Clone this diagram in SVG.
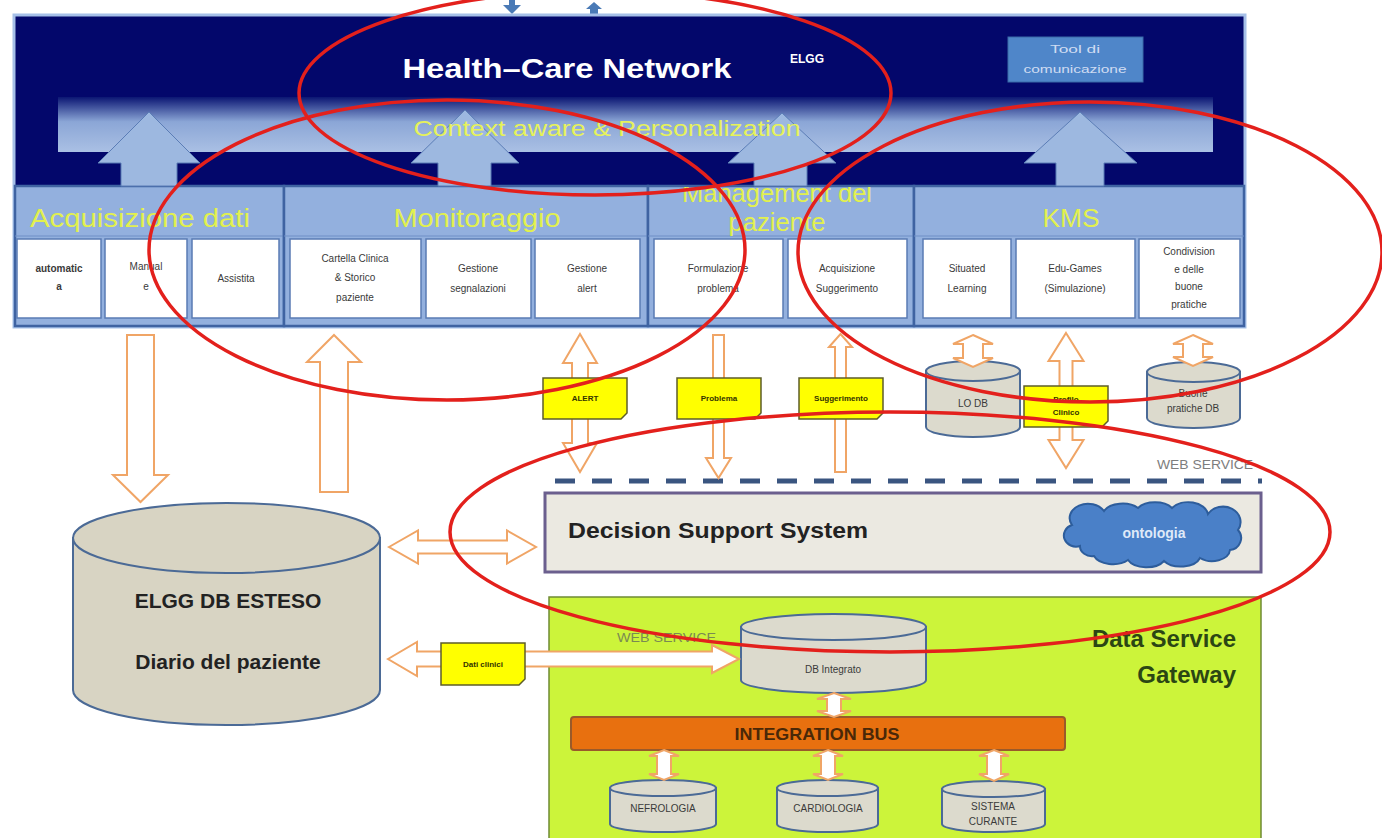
<svg xmlns="http://www.w3.org/2000/svg" width="1382" height="838" viewBox="0 0 1382 838">
  <style>
    text { font-family: "Liberation Sans", Arial, sans-serif; }
    .title { fill: #e2f04e; font-size: 26px; text-anchor: middle; }
    .sect { fill: #93b0de; stroke: #3f63a2; stroke-width: 2.5; }
    .box { fill: #ffffff; stroke: #5a7bb4; stroke-width: 1.5; }
    .small { fill: #3a3a3a; font-size: 10px; text-anchor: middle; }
    .up { fill: #9db8e0; stroke: #5b7db6; stroke-width: 1; }
    .flow { fill: #ffffff; stroke: #f0a566; stroke-width: 2; stroke-linejoin: miter; }
    .note { fill: #ffff00; stroke: #5d5d2a; stroke-width: 1.5; }
    .notetxt { fill: #333300; font-size: 8px; font-weight: bold; text-anchor: middle; }
    .cyl { fill: #d8d4c3; stroke: #4b6a96; stroke-width: 2; }
    .cylsm { fill: #dcdacd; stroke: #4b6a96; stroke-width: 2; }
    .mark { fill: none; stroke: #e3201c; stroke-width: 3.5; }
  </style>
  <defs>
    <linearGradient id="bandGrad" x1="0" y1="0" x2="0" y2="1">
      <stop offset="0" stop-color="#0b1673"/>
      <stop offset="0.45" stop-color="#8ba6d6"/>
      <stop offset="1" stop-color="#aac0e4"/>
    </linearGradient>
    <clipPath id="mgmtClip">
      <rect x="648" y="187" width="266" height="50"/>
    </clipPath>
  </defs>

  <rect x="0" y="0" width="1382" height="838" fill="#ffffff"/>

  <!-- arrow ends coming in from above the panel -->
  <g id="incoming" fill="#4a7ab6">
    <rect x="509" y="0" width="6" height="5"/>
    <polygon points="503,5 521,5 512,14"/>
    <polygon points="594,2 602,9 598,9 598,16 590,16 590,9 586,9"/>
  </g>

  <!-- Health-Care Network panel -->
  <g id="health-care-network">
    <rect x="14" y="15" width="1231" height="312" fill="#03076b" stroke="#a6c0e8" stroke-width="3"/>
    <text x="567" y="78" fill="#ffffff" font-size="28" font-weight="bold" text-anchor="middle" textLength="329" lengthAdjust="spacingAndGlyphs">Health–Care Network</text>
    <text x="807" y="63" fill="#ffffff" font-size="12" font-weight="bold" text-anchor="middle">ELGG</text>
  </g>

  <g id="tool-comunicazione">
    <rect x="1008" y="37" width="135" height="45" fill="#4f86c9" stroke="#3a6aa8" stroke-width="1"/>
    <text x="1075" y="53" fill="#cfdcf2" font-size="11" text-anchor="middle" textLength="50" lengthAdjust="spacingAndGlyphs">Tool di</text>
    <text x="1075" y="73" fill="#cfdcf2" font-size="11" text-anchor="middle" textLength="103" lengthAdjust="spacingAndGlyphs">comunicazione</text>
  </g>

  <g id="context-aware">
    <rect x="58" y="97" width="1155" height="55" fill="url(#bandGrad)"/>
  </g>

  <!-- module row -->
  <g id="acquisizione-dati">
    <rect class="sect" x="15" y="186" width="269" height="140"/>
    <line x1="15" y1="236" x2="284" y2="236" stroke="#6f8fc6" stroke-width="1"/>
    <text class="title" x="140" y="227" textLength="220" lengthAdjust="spacingAndGlyphs">Acquisizione dati</text>
    <rect class="box" x="17" y="239" width="84" height="79"/>
    <rect class="box" x="105" y="239" width="82" height="79"/>
    <rect class="box" x="192" y="239" width="87" height="79"/>
    <text class="small" x="59" y="272" font-weight="bold" font-size="8.5">automatic</text>
    <text class="small" x="59" y="290" font-weight="bold" font-size="8.5">a</text>
    <text class="small" x="146" y="270">Manual</text>
    <text class="small" x="146" y="290">e</text>
    <text class="small" x="236" y="282">Assistita</text>
  </g>

  <g id="monitoraggio">
    <rect class="sect" x="284" y="186" width="364" height="140"/>
    <line x1="284" y1="236" x2="648" y2="236" stroke="#6f8fc6" stroke-width="1"/>
    <text class="title" x="477" y="227" textLength="167" lengthAdjust="spacingAndGlyphs">Monitoraggio</text>
    <rect class="box" x="290" y="239" width="131" height="79"/>
    <rect class="box" x="426" y="239" width="105" height="79"/>
    <rect class="box" x="535" y="239" width="105" height="79"/>
    <text class="small" x="355" y="262">Cartella Clinica</text>
    <text class="small" x="355" y="281">&amp; Storico</text>
    <text class="small" x="355" y="301">paziente</text>
    <text class="small" x="478" y="272">Gestione</text>
    <text class="small" x="478" y="292">segnalazioni</text>
    <text class="small" x="587" y="272">Gestione</text>
    <text class="small" x="587" y="292">alert</text>
  </g>

  <g id="management-paziente">
    <rect class="sect" x="648" y="186" width="266" height="140"/>
    <line x1="648" y1="236" x2="914" y2="236" stroke="#6f8fc6" stroke-width="1"/>
    <g clip-path="url(#mgmtClip)">
      <text class="title" x="777" y="202" font-size="24" textLength="190" lengthAdjust="spacingAndGlyphs">Management del</text>
      <text class="title" x="777" y="231" font-size="24" textLength="97" lengthAdjust="spacingAndGlyphs">paziente</text>
    </g>
    <rect class="box" x="654" y="239" width="129" height="79"/>
    <rect class="box" x="788" y="239" width="119" height="79"/>
    <text class="small" x="718" y="272">Formulazione</text>
    <text class="small" x="718" y="292">problema</text>
    <text class="small" x="847" y="272">Acquisizione</text>
    <text class="small" x="847" y="292">Suggerimento</text>
  </g>

  <g id="kms">
    <rect class="sect" x="914" y="186" width="330" height="140"/>
    <line x1="914" y1="236" x2="1244" y2="236" stroke="#6f8fc6" stroke-width="1"/>
    <text class="title" x="1071" y="227" textLength="57" lengthAdjust="spacingAndGlyphs">KMS</text>
    <rect class="box" x="923" y="239" width="88" height="79"/>
    <rect class="box" x="1016" y="239" width="119" height="79"/>
    <rect class="box" x="1139" y="239" width="101" height="79"/>
    <text class="small" x="967" y="272">Situated</text>
    <text class="small" x="967" y="292">Learning</text>
    <text class="small" x="1075" y="272">Edu-Games</text>
    <text class="small" x="1075" y="292">(Simulazione)</text>
    <text class="small" x="1189" y="255">Condivision</text>
    <text class="small" x="1189" y="273">e delle</text>
    <text class="small" x="1189" y="290">buone</text>
    <text class="small" x="1189" y="308">pratiche</text>
  </g>

  <!-- storage -->
  <g id="elgg-db-esteso">
    <path class="cyl" d="M73,538 V690 A153.5,35 0 0 0 380,690 V538 Z"/>
    <ellipse class="cyl" cx="226.5" cy="538" rx="153.5" ry="35"/>
    <text x="228" y="608" fill="#222222" font-size="21" font-weight="bold" text-anchor="middle">ELGG DB ESTESO</text>
    <text x="228" y="669" fill="#222222" font-size="21" font-weight="bold" text-anchor="middle">Diario del paziente</text>
  </g>

  <g id="lo-db">
    <path class="cylsm" d="M926,371 V427 A47,10 0 0 0 1020,427 V371 Z"/>
    <ellipse class="cylsm" cx="973" cy="371" rx="47" ry="10"/>
    <text class="small" x="973" y="407" font-size="11">LO DB</text>
  </g>

  <g id="buone-pratiche-db">
    <path class="cylsm" d="M1147,372 V418 A46.5,10 0 0 0 1240,418 V372 Z"/>
    <ellipse class="cylsm" cx="1193.5" cy="372" rx="46.5" ry="10"/>
    <text class="small" x="1193" y="397" font-size="9.5">Buone</text>
    <text class="small" x="1193" y="412" font-size="9.5">pratiche DB</text>
  </g>

  <g id="web-service-line">
    <line x1="555" y1="481" x2="1262" y2="481" stroke="#3a5580" stroke-width="5" stroke-dasharray="20 17"/>
    <text x="1253" y="469" fill="#7d7d7d" font-size="13" text-anchor="end" textLength="96" lengthAdjust="spacingAndGlyphs">WEB SERVICE</text>
  </g>

  <g id="decision-support-system">
    <rect x="545" y="493" width="716" height="79" fill="#ebe9e1" stroke="#6b5f8e" stroke-width="3"/>
    <text x="568" y="538" fill="#222222" font-size="22" font-weight="bold" textLength="300" lengthAdjust="spacingAndGlyphs">Decision Support System</text>
  </g>

  <g id="ontologia">
    <path d="M1080,546 A12,11 0 0 1 1072,525 A18,14 0 0 1 1104,511 A20,12 0 0 1 1138,508 A20,12 0 0 1 1172,508 A20,14 0 0 1 1208,514 A16,14 0 0 1 1238,530 A12,12 0 0 1 1230,550 A18,12 0 0 1 1200,558 A20,12 0 0 1 1164,561 A20,12 0 0 1 1128,560 A20,12 0 0 1 1094,556 A12,10 0 0 1 1080,546 Z" fill="#4a80c8" stroke="#2d5d9c" stroke-width="2"/>
    <text x="1154" y="538" fill="#dfe9f8" font-size="14" font-weight="bold" text-anchor="middle">ontologia</text>
  </g>

  <g id="data-service-gateway">
    <rect x="549" y="597" width="712" height="250" fill="#ccf43a" stroke="#6f8a34" stroke-width="1.5"/>
    <text x="1236" y="647" fill="#2b4614" font-size="24" font-weight="bold" text-anchor="end">Data Service</text>
    <text x="1236" y="683" fill="#2b4614" font-size="24" font-weight="bold" text-anchor="end">Gateway</text>
    <text x="617" y="642" fill="#7a8a52" font-size="13" textLength="99" lengthAdjust="spacingAndGlyphs">WEB SERVICE</text>
  </g>

  <g id="db-integrato">
    <path class="cylsm" d="M741,627 V680 A92.5,13 0 0 0 926,680 V627 Z"/>
    <ellipse class="cylsm" cx="833.5" cy="627" rx="92.5" ry="13"/>
    <text class="small" x="833" y="673" font-size="10">DB Integrato</text>
  </g>

  <g id="integration-bus">
    <rect x="571" y="717" width="494" height="33" rx="3" fill="#e8700f" stroke="#9a5a2a" stroke-width="2"/>
    <text x="817" y="740" fill="#4a2808" font-size="17" font-weight="bold" text-anchor="middle" textLength="165" lengthAdjust="spacingAndGlyphs">INTEGRATION BUS</text>
  </g>

  <g id="nefrologia">
    <path class="cylsm" d="M610,788 V824 A53,8 0 0 0 716,824 V788 Z"/>
    <ellipse class="cylsm" cx="663" cy="788" rx="53" ry="8"/>
    <text class="small" x="663" y="812" font-size="7">NEFROLOGIA</text>
  </g>

  <g id="cardiologia">
    <path class="cylsm" d="M777,788 V824 A50.5,8 0 0 0 878,824 V788 Z"/>
    <ellipse class="cylsm" cx="827.5" cy="788" rx="50.5" ry="8"/>
    <text class="small" x="828" y="812" font-size="7">CARDIOLOGIA</text>
  </g>

  <g id="sistema-curante">
    <path class="cylsm" d="M942,789 V824 A51.5,8 0 0 0 1045,824 V789 Z"/>
    <ellipse class="cylsm" cx="993.5" cy="789" rx="51.5" ry="8"/>
    <text class="small" x="993" y="810" font-size="7">SISTEMA</text>
    <text class="small" x="993" y="825" font-size="7">CURANTE</text>
  </g>

  <!-- connectors -->
  <g id="connectors">
    <!-- module outputs up into the context layer -->
    <path class="up" d="M149,112 L200,163 H177 V186 H121 V163 H98 Z"/>
    <path class="up" d="M465,110 L519,163 H491 V186 H438 V163 H411 Z"/>
    <path class="up" d="M782,113 L836,163 H807 V186 H754 V163 H728 Z"/>
    <path class="up" d="M1080,112 L1137,163 H1104 V186 H1056 V163 H1024 Z"/>

    <!-- data flows -->
    <path class="flow" d="M127,335 H154 V475 H168 L140.5,502 L113,475 H127 Z"/>
    <path class="flow" d="M334,335 L361,362 H348 V492 H320 V362 H307 Z"/>
    <path class="flow" d="M389,547 L418,530.5 V540.5 H507 V530.5 L536,547 L507,563.5 V553.5 H418 V563.5 Z"/>
    <path class="flow" d="M388,659 L417,642 V651.5 H712 V645 L739,659 L712,673 V666.5 H417 V676 Z"/>
    <path class="flow" d="M580,334 L597,363 H588 V443 H597 L580,472 L563,443 H572 V363 H563 Z"/>
    <path class="flow" d="M713,335 H724 V458 H731 L718.5,478 L706,458 H713 Z"/>
    <path class="flow" d="M840.5,334 L852,347 H846 V472 H835 V347 H829 Z"/>
    <path class="flow" d="M973,335 L993,344 H983 V358 H993 L973,367 L953,358 H963 V344 H953 Z"/>
    <path class="flow" d="M1066,333 L1083.5,361 H1072.5 V440 H1083.5 L1066,468 L1048.5,440 H1059.5 V361 H1048.5 Z"/>
    <path class="flow" d="M1193,335 L1213,344 H1203 V357 H1213 L1193,366 L1173,357 H1183 V344 H1173 Z"/>

    <!-- gateway internals -->
    <path class="flow" d="M834,693 L851,699 H841 V711 H851 L834,717 L817,711 H827 V699 H817 Z"/>
    <path class="flow" d="M664,750 L679,756 H671 V774 H679 L664,780 L649,774 H657 V756 H649 Z"/>
    <path class="flow" d="M828,750 L843,756 H835 V774 H843 L828,780 L813,774 H821 V756 H813 Z"/>
    <path class="flow" d="M994,750 L1009,756 H1001 V774 H1009 L994,781 L979,774 H987 V756 H979 Z"/>
  </g>

  <!-- layer caption, printed over the arrow heads -->
  <g id="context-aware-label">
    <text x="607" y="136" fill="#e6f25a" font-size="22" text-anchor="middle" textLength="387" lengthAdjust="spacingAndGlyphs">Context aware &amp; Personalization</text>
  </g>

  <!-- message notes on the flows -->
  <g id="note-alert">
    <path class="note" d="M543,378 H627 V413 L621,419 H543 Z"/>
    <text class="notetxt" x="585" y="401">ALERT</text>
  </g>
  <g id="note-problema">
    <path class="note" d="M677,378 H761 V413 L755,419 H677 Z"/>
    <text class="notetxt" x="719" y="401">Problema</text>
  </g>
  <g id="note-suggerimento">
    <path class="note" d="M799,378 H883 V413 L877,419 H799 Z"/>
    <text class="notetxt" x="841" y="401">Suggerimento</text>
  </g>
  <g id="note-profilo-clinico">
    <path class="note" d="M1024,386 H1108 V421 L1102,427 H1024 Z"/>
    <text class="notetxt" x="1066" y="402">Profilo</text>
    <text class="notetxt" x="1066" y="415">Clinico</text>
  </g>
  <g id="note-dati-clinici">
    <path class="note" d="M441,643 H525 V679 L519,685 H441 Z"/>
    <text class="notetxt" x="483" y="667">Dati clinici</text>
  </g>

  <!-- highlighted areas -->
  <g id="highlights">
    <ellipse class="mark" cx="595" cy="93" rx="296" ry="102"/>
    <ellipse class="mark" cx="447" cy="250" rx="298" ry="150"/>
    <ellipse class="mark" cx="1090" cy="252" rx="292" ry="150"/>
    <ellipse class="mark" cx="890" cy="532" rx="440" ry="120"/>
  </g>
</svg>
